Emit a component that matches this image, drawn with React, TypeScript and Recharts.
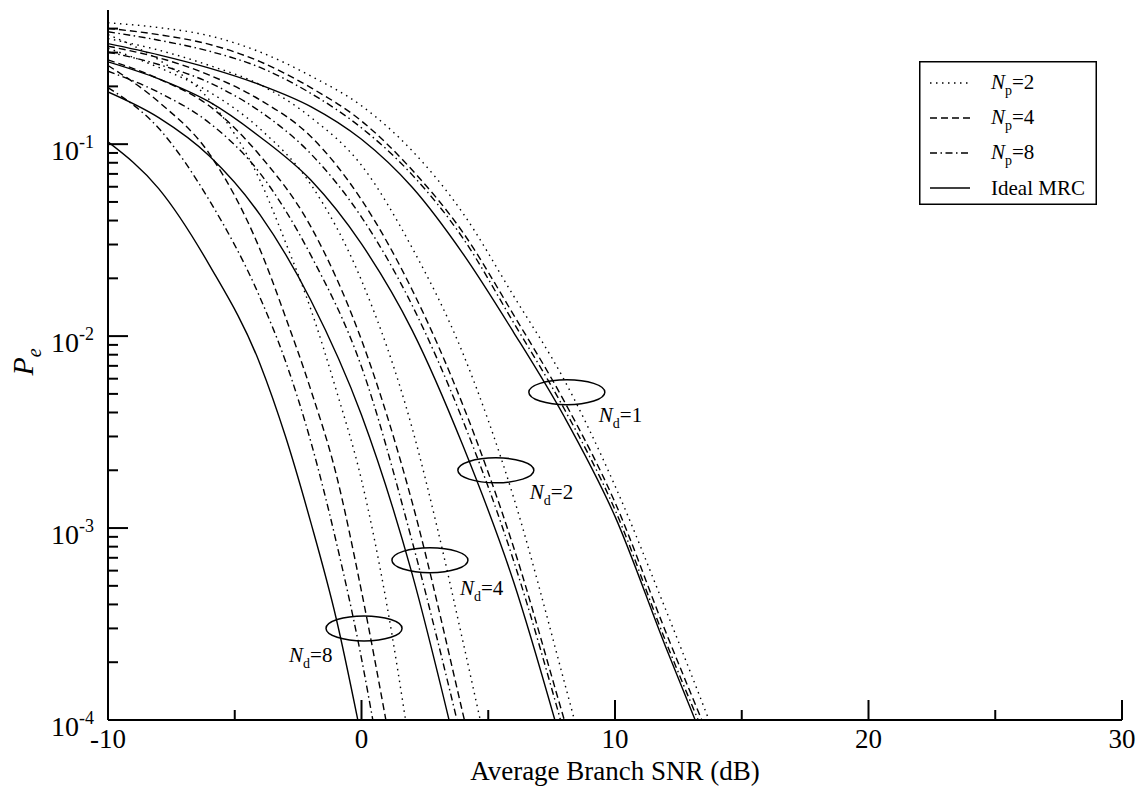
import React from "react";
import { LineChart, Line, XAxis, YAxis, Legend, ReferenceDot } from "recharts";

const FONT = '"Liberation Serif", "Times New Roman", serif';

// [average branch SNR (dB), Pe]
const nd1Np2 = [[-10, 0.429], [-8, 0.405], [-6, 0.367], [-4, 0.302], [-2, 0.2265], [0, 0.1585], [2, 0.0923], [4, 0.0437], [6, 0.0162], [8, 0.0059], [10, 0.00166], [12, 0.000376], [14, 0.0000794]];
const nd1Np4 = [[-10, 0.401], [-8, 0.372], [-6, 0.331], [-4, 0.269], [-2, 0.197], [0, 0.132], [2, 0.0733], [4, 0.0347], [6, 0.0129], [8, 0.00457], [10, 0.00136], [12, 0.000288], [13.8, 0.0000759]];
const nd1Np8 = [[-10, 0.385], [-8, 0.348], [-6, 0.305], [-4, 0.251], [-2, 0.184], [0, 0.1216], [2, 0.0692], [4, 0.0324], [6, 0.01175], [8, 0.00417], [10, 0.001245], [12, 0.000257], [13.6, 0.0000794]];
const nd1Ideal = [[-10, 0.334], [-8, 0.292], [-6, 0.249], [-4, 0.204], [-2, 0.157], [0, 0.106], [2, 0.0596], [4, 0.0269], [6, 0.01047], [8, 0.0038], [10, 0.00115], [12, 0.00024], [13.5, 0.0000776]];

const nd2Np2 = [[-10, 0.355], [-8, 0.309], [-6, 0.257], [-4, 0.204], [-2, 0.138], [0, 0.0776], [2, 0.0288], [4, 0.00813], [6, 0.001445], [8, 0.000158], [8.6, 0.0000794]];
const nd2Np4 = [[-10, 0.324], [-8, 0.282], [-6, 0.229], [-4, 0.17], [-2, 0.1096], [0, 0.0513], [2, 0.0174], [4, 0.00437], [6, 0.000794], [8, 0.0001], [8.2, 0.0000813]];
const nd2Np8 = [[-10, 0.302], [-8, 0.26], [-6, 0.209], [-4, 0.148], [-2, 0.0891], [0, 0.0417], [2, 0.01445], [4, 0.00363], [6, 0.000676], [8, 0.0000851]];
const nd2Ideal = [[-10, 0.2685], [-8, 0.219], [-6, 0.166], [-4, 0.109], [-2, 0.065], [0, 0.0302], [2, 0.01072], [4, 0.00269], [6, 0.000525], [7.8, 0.0000832]];

const nd4Np2 = [[-10, 0.316], [-8, 0.251], [-6, 0.187], [-4, 0.12], [-2, 0.0617], [0, 0.0195], [2, 0.00331], [3, 0.000989], [4, 0.000257], [4.85, 0.0000794]];
const nd4Np4 = [[-10, 0.275], [-8, 0.219], [-6, 0.158], [-4, 0.0871], [-2, 0.0372], [0, 0.00955], [2, 0.00136], [4, 0.000108], [4.2, 0.0000832]];
const nd4Np8 = [[-10, 0.24], [-8, 0.186], [-6, 0.129], [-4, 0.0705], [-2, 0.0264], [0, 0.00692], [2, 0.000851], [3.95, 0.0000794]];
const nd4Ideal = [[-10, 0.187], [-8, 0.1374], [-6, 0.0867], [-4, 0.0428], [-2, 0.01538], [0, 0.00388], [2, 0.000575], [3.6, 0.0000832]];

const nd8Np2 = [[-10, 0.372], [-8, 0.275], [-6, 0.17], [-4, 0.0646], [-3, 0.0309], [-2, 0.0138], [-1, 0.00525], [0, 0.00178], [1, 0.000398], [1.9, 0.0000724]];
const nd8Np4 = [[-10, 0.257], [-8, 0.166], [-6, 0.0891], [-4, 0.0282], [-3, 0.0126], [-2, 0.00525], [-1, 0.00191], [0, 0.000468], [1.1, 0.0000794]];
const nd8Np8 = [[-10, 0.197], [-8, 0.121], [-6, 0.0509], [-4, 0.01585], [-3, 0.00741], [-2, 0.00282], [-1, 0.000851], [0, 0.000209], [0.5, 0.0000912]];
const nd8Ideal = [[-10, 0.1028], [-8, 0.0587], [-6, 0.02344], [-4, 0.00714], [-3, 0.003006], [-2, 0.00107], [-1, 0.000339], [0, 0.0000804]];

const xTicks = [-10, -5, 0, 5, 10, 15, 20, 25, 30];
const yTicks = [
  0.0001, 0.0002, 0.0003, 0.0004, 0.0005, 0.0006, 0.0007, 0.0008, 0.0009,
  0.001, 0.002, 0.003, 0.004, 0.005, 0.006, 0.007, 0.008, 0.009,
  0.01, 0.02, 0.03, 0.04, 0.05, 0.06, 0.07, 0.08, 0.09,
  0.1, 0.2, 0.3, 0.4,
];

// diversity-order annotations (ellipse centres)
const ringNd = ["1", "2", "4", "8"];
const ringSnr = [8.1, 5.3, 2.7, 0.1];
const ringPe = [0.0051, 0.002, 0.00068, 0.0003];
const ringLabelDx = [32, 34, 30, -75];
const ringLabelDy = [30, 29, 35, 34];

const legendPilots = ["2", "4", "8"];

const DOT = "1.5 4.5";
const DASH = "7 4";
const DASHDOT = "7 3.5 1.5 3.5";
const STYLE_BY_NP = [DOT, DASH, DASHDOT, undefined];

const groups = [
  [nd1Np2, nd1Np4, nd1Np8, nd1Ideal],
  [nd2Np2, nd2Np4, nd2Np8, nd2Ideal],
  [nd4Np2, nd4Np4, nd4Np8, nd4Ideal],
  [nd8Np2, nd8Np4, nd8Np8, nd8Ideal],
];

const toPts = (arr: number[][]) => arr.map(([snr, pe]) => ({ snr, pe }));

const isDecade = (v: number) => Math.abs(Math.log10(v) - Math.round(Math.log10(v))) < 1e-9;

const BottomTick = (props: any) => {
  const { x, y, payload } = props;
  const major = payload.value % 10 === 0;
  return (
    <g>
      <line x1={x} x2={x} y1={y} y2={y - (major ? 20 : 10)} stroke="#000" strokeWidth={2} />
      {major && (
        <text x={x} y={y + 28} textAnchor="middle" fontSize={27} fontFamily={FONT} fill="#000">
          {payload.value}
        </text>
      )}
    </g>
  );
};

const TopTick = (props: any) => {
  const { x, y, payload } = props;
  const major = payload.value % 10 === 0;
  return <line x1={x} x2={x} y1={y} y2={y + (major ? 20 : 10)} stroke="#000" strokeWidth={2} />;
};

const LeftTick = (props: any) => {
  const { x, y, payload } = props;
  const major = isDecade(payload.value);
  return (
    <g>
      <line x1={x} x2={x + (major ? 20 : 10)} y1={y} y2={y} stroke="#000" strokeWidth={2} />
      {major && (
        <text x={x - 14} y={y + 16} textAnchor="end" fontSize={28} fontFamily={FONT} fill="#000">
          <tspan>10</tspan>
          <tspan dy={-12} fontSize={18}>{Math.round(Math.log10(payload.value))}</tspan>
        </text>
      )}
    </g>
  );
};

const RightTick = (props: any) => {
  const { x, y, payload } = props;
  const major = isDecade(payload.value);
  return <line x1={x} x2={x - (major ? 20 : 10)} y1={y} y2={y} stroke="#000" strokeWidth={2} />;
};

const renderLegend = () => (
  <svg width={178} height={144} style={{ display: "block", fontFamily: FONT }}>
    <rect x={0.75} y={0.75} width={176.5} height={142.5} fill="#fff" stroke="#000" strokeWidth={1.5} />
    {STYLE_BY_NP.map((dash, i) => {
      const cy = 22 + i * 35;
      return (
        <g key={i}>
          <line x1={11} x2={51} y1={cy} y2={cy} stroke="#000" strokeWidth={1.4} strokeDasharray={dash} />
          {i < 3 ? (
            <text x={72} y={cy + 6} fontSize={21} fill="#000">
              <tspan fontStyle="italic">N</tspan>
              <tspan dy={6} fontSize={14}>p</tspan>
              <tspan dy={-6}>={legendPilots[i]}</tspan>
            </text>
          ) : (
            <text x={72} y={cy + 7} fontSize={21} fill="#000">Ideal MRC</text>
          )}
        </g>
      );
    })}
  </svg>
);

export default function App() {
  return (
    <div style={{ position: "absolute", left: 0, top: 0, width: 1143, height: 789, background: "#fff", fontFamily: FONT }}>
      <LineChart width={1143} height={789} margin={{ top: 10, right: 21, bottom: 39, left: 8 }}>
        <XAxis
          xAxisId="b"
          dataKey="snr"
          type="number"
          domain={[-10, 30]}
          ticks={xTicks}
          interval={0}
          allowDataOverflow
          tickSize={0}
          tickMargin={0}
          tickLine={false}
          axisLine={{ stroke: "#000", strokeWidth: 2 }}
          height={30}
          tick={BottomTick}
          label={{
            content: (p: any) => {
              const vb = p.viewBox || { x: 108, y: 720, width: 1014 };
              return (
                <text x={vb.x + vb.width / 2} y={vb.y + 60} textAnchor="middle" fontSize={27} fontFamily={FONT} fill="#000">
                  Average Branch SNR (dB)
                </text>
              );
            },
          }}
        />
        <XAxis
          xAxisId="t"
          orientation="top"
          dataKey="snr"
          type="number"
          domain={[-10, 30]}
          ticks={xTicks}
          interval={0}
          allowDataOverflow
          tickSize={0}
          tickMargin={0}
          tickLine={false}
          axisLine={{ stroke: "#000", strokeWidth: 2 }}
          height={0}
          tick={TopTick}
        />
        <YAxis
          yAxisId="l"
          type="number"
          scale="log"
          domain={[0.0001, 0.5]}
          ticks={yTicks}
          interval={0}
          allowDataOverflow
          tickSize={0}
          tickMargin={0}
          tickLine={false}
          axisLine={{ stroke: "#000", strokeWidth: 2 }}
          width={100}
          tick={LeftTick}
          label={{
            content: (p: any) => {
              const vb = p.viewBox || { x: 8, y: 10, height: 710 };
              const cx = vb.x + 25;
              const cy = vb.y + vb.height / 2 - 3;
              return (
                <text x={cx} y={cy} transform={`rotate(-90 ${cx} ${cy})`} textAnchor="middle" fontSize={30} fontFamily={FONT} fill="#000">
                  <tspan fontStyle="italic">P</tspan>
                  <tspan dy={8} fontSize={20} fontStyle="italic">e</tspan>
                </text>
              );
            },
          }}
        />
        <YAxis
          yAxisId="r"
          orientation="right"
          type="number"
          scale="log"
          domain={[0.0001, 0.5]}
          ticks={yTicks}
          interval={0}
          allowDataOverflow
          tickSize={0}
          tickMargin={0}
          tickLine={false}
          axisLine={{ stroke: "#000", strokeWidth: 2 }}
          width={0}
          tick={RightTick}
        />
        <Legend
          layout="vertical"
          align="center"
          verticalAlign="middle"
          content={renderLegend}
          wrapperStyle={{ left: 919, top: 61, width: 178, height: 144 }}
        />
        <Line
          xAxisId="t"
          yAxisId="r"
          data={toPts(nd1Ideal)}
          dataKey="pe"
          stroke="none"
          dot={false}
          legendType="none"
          isAnimationActive={false}
        />
        {groups.map((g, gi) =>
          g.map((series, si) => (
            <Line
              key={`${gi}-${si}`}
              xAxisId="b"
              yAxisId="l"
              data={toPts(series)}
              dataKey="pe"
              type="monotone"
              stroke="#000"
              strokeWidth={1.4}
              strokeDasharray={STYLE_BY_NP[si]}
              dot={false}
              activeDot={false}
              isAnimationActive={false}
            />
          ))
        )}
        {ringNd.map((nd, i) => (
          <ReferenceDot
            key={`ring-${nd}`}
            xAxisId="b"
            yAxisId="l"
            x={ringSnr[i]}
            y={ringPe[i]}
            r={0}
            ifOverflow="visible"
            shape={(p: any) => (
              <g>
                <ellipse cx={p.cx} cy={p.cy} rx={38} ry={12.5} fill="none" stroke="#000" strokeWidth={1.5} />
                <text x={p.cx + ringLabelDx[i]} y={p.cy + ringLabelDy[i]} fontSize={21} fontFamily={FONT} fill="#000">
                  <tspan fontStyle="italic">N</tspan>
                  <tspan dy={6} fontSize={14}>d</tspan>
                  <tspan dy={-6}>={nd}</tspan>
                </text>
              </g>
            )}
          />
        ))}
      </LineChart>
    </div>
  );
}
